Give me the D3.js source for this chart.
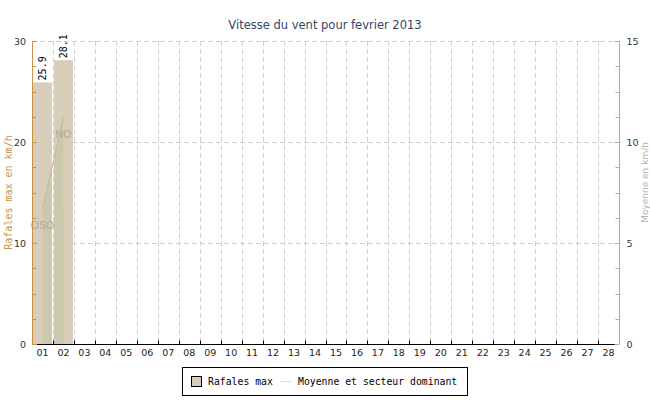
<!DOCTYPE html>
<html><head><meta charset="utf-8">
<script src="https://cdn.jsdelivr.net/npm/d3@7"></script>
<style>body{margin:0;background:#fff}svg{display:block}</style>
</head><body>
<script>
const days = ["01","02","03","04","05","06","07","08","09","10","11","12","13","14","15","16","17","18","19","20","21","22","23","24","25","26","27","28"];
const gusts = [25.9, 28.1];
const means = [6.7, 11.2];
const sectors = ["OSO", "NO"];
const leftTicks = [0, 10, 20, 30];
const rightTicks = [0, 5, 10, 15];
const title = "Vitesse du vent pour fevrier 2013";

const W = 650, H = 400;
const m = {l: 32, r: 31, t: 41, b: 56};
const svg = d3.select("body").append("svg").attr("width", W).attr("height", H);
const x = d3.scaleBand().domain(days).range([m.l, W - m.r]).paddingInner(0).paddingOuter(0);
const yL = d3.scaleLinear().domain([0, 30]).range([H - m.b, m.t]);
const yR = d3.scaleLinear().domain([0, 15]).range([H - m.b, m.t]);
const bw = x.bandwidth();
const mono = "DejaVu Sans Mono";
const sans = "DejaVu Sans";

// grid
const g = svg.append("g");
g.selectAll(".hg").data([10, 20, 30]).join("line")
  .attr("x1", m.l).attr("x2", W - m.r)
  .attr("y1", d => Math.round(yL(d)) + 0.5).attr("y2", d => Math.round(yL(d)) + 0.5)
  .attr("stroke", "#d0d0d0").attr("stroke-dasharray", "5,3");
g.selectAll(".vg").data(days.slice(1)).join("line")
  .attr("x1", d => Math.round(x(d)) + 0.5).attr("x2", d => Math.round(x(d)) + 0.5)
  .attr("y1", m.t).attr("y2", H - m.b)
  .attr("stroke", "#d0d0d0").attr("stroke-dasharray", "5,3");

// bars
const bars = gusts.map((v, i) => ({d: days[i], v}));
svg.append("g").selectAll("rect").data(bars).join("rect")
  .attr("x", d => x(d.d) + 1).attr("width", bw - 2)
  .attr("y", d => yL(d.v)).attr("height", d => yL(0) - yL(d.v))
  .attr("fill", "#d8cdba");

// clip for area
const defs = svg.append("defs");
const cp = defs.append("clipPath").attr("id", "barclip");
cp.selectAll("rect").data(bars).join("rect")
  .attr("x", d => x(d.d) + 1).attr("width", bw - 2)
  .attr("y", d => yL(d.v)).attr("height", d => yL(0) - yL(d.v));

const pts = means.map((v, i) => ({d: days[i], v}));
const cx = d => x(d.d) + bw / 2;
svg.append("path").datum(pts)
  .attr("clip-path", "url(#barclip)")
  .attr("d", d3.area().x(cx).y0(yR(0)).y1(d => yR(d.v)))
  .attr("fill", "#a9bf92").attr("opacity", 0.3);
svg.append("path").datum(pts)
  .attr("d", d3.line().x(cx).y(d => yR(d.v)))
  .attr("fill", "none").attr("stroke", "#c8b990").attr("stroke-width", 1);
svg.append("g").selectAll("text").data(pts).join("text")
  .attr("x", cx).attr("y", d => yR(d.v) + 20)
  .attr("text-anchor", "middle").attr("font-family", "Liberation Sans").attr("font-size", 10.5)
  .attr("fill", "#b0a896").text((d, i) => sectors[i]);

// bar value labels
svg.append("g").selectAll("text").data(bars).join("text")
  .attr("transform", d => `translate(${x(d.d) + bw / 2 + 4},${yL(d.v) - 2}) rotate(-90)`)
  .attr("font-family", mono).attr("font-size", 10).attr("fill", "#000")
  .text(d => d.v.toFixed(1));

// x axis
const xa = svg.append("g").attr("transform", `translate(0,${H - m.b + 0.5})`);
xa.append("line").attr("x1", m.l).attr("x2", W - m.r).attr("stroke", "#000");
xa.selectAll(".t").data(days.slice(1)).join("line")
  .attr("x1", d => Math.round(x(d)) + 0.5).attr("x2", d => Math.round(x(d)) + 0.5)
  .attr("y1", 0).attr("y2", -4).attr("stroke", "#000");
xa.selectAll("text").data(days).join("text")
  .attr("x", d => x(d) + bw / 2).attr("y", 11)
  .attr("text-anchor", "middle").attr("font-family", sans).attr("font-size", 9.5)
  .attr("fill", "#222").text(d => d);

// left axis
const la = svg.append("g");
const lc = "#c8924a";
la.append("line").attr("x1", m.l + 0.5).attr("x2", m.l + 0.5).attr("y1", m.t).attr("y2", H - m.b)
  .attr("stroke", lc);
la.selectAll(".mn").data(d3.range(0, 30.01, 2.5)).join("line")
  .attr("x1", m.l).attr("x2", d => m.l + (d % 10 === 0 ? 5 : 4))
  .attr("y1", d => Math.round(yL(d)) + 0.5).attr("y2", d => Math.round(yL(d)) + 0.5)
  .attr("stroke", lc);
la.selectAll("text").data(leftTicks).join("text")
  .attr("x", m.l - 6).attr("y", d => yL(d) + 4)
  .attr("text-anchor", "end").attr("font-family", sans).attr("font-size", 9.5)
  .attr("fill", "#333").text(d => d);
svg.append("text").attr("transform", `translate(12,${(m.t + H - m.b) / 2}) rotate(-90)`)
  .attr("text-anchor", "middle").attr("font-family", mono).attr("font-size", 10)
  .attr("fill", lc).text("Rafales max en km/h");

// right axis
const rc = "#b4aa9c";
const rx = W - m.r + 0.5;
svg.append("line").attr("x1", rx).attr("x2", rx).attr("y1", m.t).attr("y2", H - m.b).attr("stroke", rc);
svg.append("g").selectAll("line").data(d3.range(0, 15.01, 1.25)).join("line")
  .attr("x1", rx).attr("x2", d => rx - (d % 5 === 0 ? 5 : 4))
  .attr("y1", d => Math.round(yR(d)) + 0.5).attr("y2", d => Math.round(yR(d)) + 0.5)
  .attr("stroke", rc);
svg.append("g").selectAll("text").data(rightTicks).join("text")
  .attr("x", rx + 7).attr("y", d => yR(d) + 4)
  .attr("font-family", sans).attr("font-size", 9.5)
  .attr("fill", "#333").text(d => d);
svg.append("text").attr("transform", `translate(648,${(m.t + H - m.b) / 2 - 10}) rotate(-90)`)
  .attr("text-anchor", "middle").attr("font-family", sans).attr("font-size", 9)
  .attr("fill", "#b8b2aa").text("Moyenne en km/h");

// title
svg.append("text").attr("x", W / 2).attr("y", 29).attr("text-anchor", "middle")
  .attr("font-family", sans).attr("font-size", 11.5).attr("fill", "#334466").text(title);

// legend
const lg = svg.append("g");
lg.append("rect").attr("x", 182.5).attr("y", 367.5).attr("width", 285).attr("height", 28)
  .attr("fill", "#fff").attr("stroke", "#000");
lg.append("rect").attr("x", 191.5).attr("y", 376.5).attr("width", 10).attr("height", 10)
  .attr("fill", "#d8cdba").attr("stroke", "#000");
lg.append("text").attr("x", 208).attr("y", 385).attr("font-family", mono).attr("font-size", 9.8)
  .attr("fill", "#000").text("Rafales max");
lg.append("line").attr("x1", 280).attr("x2", 292).attr("y1", 381.5).attr("y2", 381.5)
  .attr("stroke", "#e6dcc4");
lg.append("text").attr("x", 298).attr("y", 385).attr("font-family", mono).attr("font-size", 9.8)
  .attr("fill", "#000").text("Moyenne et secteur dominant");
</script>
</body></html>
